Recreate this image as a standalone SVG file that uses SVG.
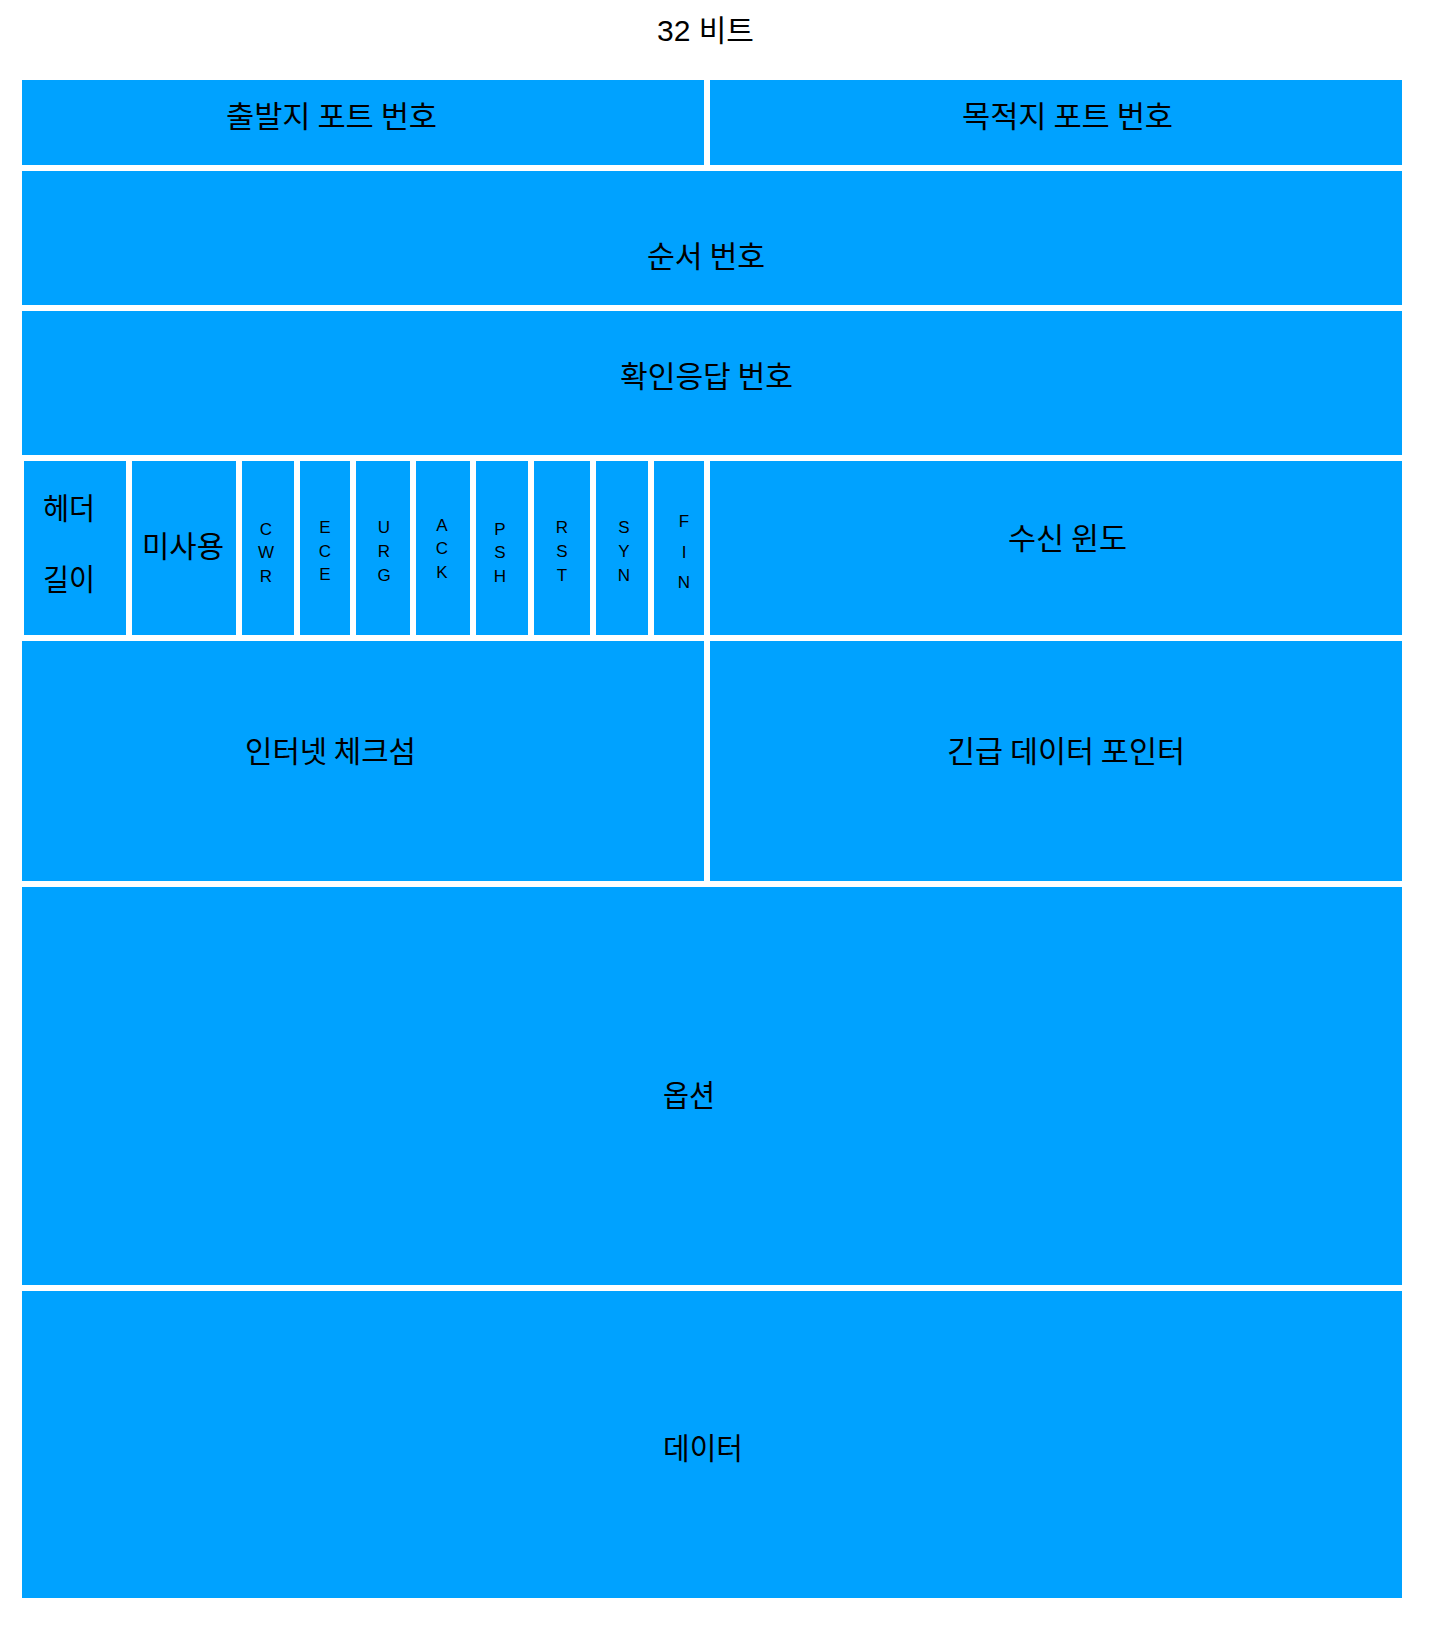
<svg xmlns="http://www.w3.org/2000/svg" width="1452" height="1632" viewBox="0 0 1452 1632">
<style>
.cell{fill:#00a2ff}
.lbl{font-family:"Noto Sans CJK KR","Liberation Sans",sans-serif;font-size:30px;fill:#000;text-anchor:middle}
.flag{font-family:"Liberation Sans","Noto Sans",sans-serif;font-size:17px;fill:#000;text-anchor:middle}
.title{font-family:"Liberation Sans","Noto Sans CJK KR",sans-serif;font-size:30px;fill:#000;text-anchor:middle}
</style>
<rect width="1452" height="1632" fill="#ffffff"/>
<text class="title" x="705.5" y="41" textLength="97" lengthAdjust="spacingAndGlyphs">32 비트</text>
<g id="src-port"><rect class="cell" x="22" y="80" width="682" height="85"/><text class="lbl" x="331.5" y="127" textLength="211" lengthAdjust="spacingAndGlyphs">출발지 포트 번호</text></g>
<g id="dst-port"><rect class="cell" x="710" y="80" width="692" height="85"/><text class="lbl" x="1067.5" y="127" textLength="211" lengthAdjust="spacingAndGlyphs">목적지 포트 번호</text></g>
<g id="seq-num"><rect class="cell" x="22" y="171" width="1380" height="134"/><text class="lbl" x="706" y="267" textLength="118" lengthAdjust="spacingAndGlyphs">순서 번호</text></g>
<g id="ack-num"><rect class="cell" x="22" y="311" width="1380" height="144"/><text class="lbl" x="706.5" y="387" textLength="173" lengthAdjust="spacingAndGlyphs">확인응답 번호</text></g>
<g id="header-len"><rect class="cell" x="24" y="461" width="102" height="174"/><text class="lbl" x="69" y="519" textLength="52" lengthAdjust="spacingAndGlyphs">헤더</text><text class="lbl" x="69" y="590" textLength="52" lengthAdjust="spacingAndGlyphs">길이</text></g>
<g id="unused"><rect class="cell" x="132" y="461" width="104" height="174"/><text class="lbl" x="183" y="557" textLength="82" lengthAdjust="spacingAndGlyphs">미사용</text></g>
<g id="cwr"><rect class="cell" x="242" y="461" width="52" height="174"/><text class="flag" x="266" y="535">C</text><text class="flag" x="266" y="558">W</text><text class="flag" x="266" y="582">R</text></g>
<g id="ece"><rect class="cell" x="300" y="461" width="50" height="174"/><text class="flag" x="325" y="533">E</text><text class="flag" x="325" y="557">C</text><text class="flag" x="325" y="580">E</text></g>
<g id="urg"><rect class="cell" x="356" y="461" width="54" height="174"/><text class="flag" x="384" y="533">U</text><text class="flag" x="384" y="557">R</text><text class="flag" x="384" y="581">G</text></g>
<g id="ack"><rect class="cell" x="416" y="461" width="54" height="174"/><text class="flag" x="442" y="531">A</text><text class="flag" x="442" y="554">C</text><text class="flag" x="442" y="578">K</text></g>
<g id="psh"><rect class="cell" x="476" y="461" width="52" height="174"/><text class="flag" x="500" y="535">P</text><text class="flag" x="500" y="558">S</text><text class="flag" x="500" y="582">H</text></g>
<g id="rst"><rect class="cell" x="534" y="461" width="56" height="174"/><text class="flag" x="562" y="533">R</text><text class="flag" x="562" y="557">S</text><text class="flag" x="562" y="581">T</text></g>
<g id="syn"><rect class="cell" x="596" y="461" width="52" height="174"/><text class="flag" x="624" y="533">S</text><text class="flag" x="624" y="557">Y</text><text class="flag" x="624" y="581">N</text></g>
<g id="fin"><rect class="cell" x="654" y="461" width="50" height="174"/><text class="flag" x="684" y="527">F</text><text class="flag" x="684" y="558">I</text><text class="flag" x="684" y="588">N</text></g>
<g id="window"><rect class="cell" x="710" y="461" width="692" height="174"/><text class="lbl" x="1067.5" y="549" textLength="119" lengthAdjust="spacingAndGlyphs">수신 윈도</text></g>
<g id="checksum"><rect class="cell" x="22" y="641" width="682" height="240"/><text class="lbl" x="330.5" y="762" textLength="171" lengthAdjust="spacingAndGlyphs">인터넷 체크섬</text></g>
<g id="urgent-ptr"><rect class="cell" x="710" y="641" width="692" height="240"/><text class="lbl" x="1066" y="762" textLength="238" lengthAdjust="spacingAndGlyphs">긴급 데이터 포인터</text></g>
<g id="options"><rect class="cell" x="22" y="887" width="1380" height="398"/><text class="lbl" x="689" y="1106" textLength="52" lengthAdjust="spacingAndGlyphs">옵션</text></g>
<g id="data"><rect class="cell" x="22" y="1291" width="1380" height="307"/><text class="lbl" x="703" y="1459" textLength="80" lengthAdjust="spacingAndGlyphs">데이터</text></g>
<g id="connectors"></g>
</svg>
